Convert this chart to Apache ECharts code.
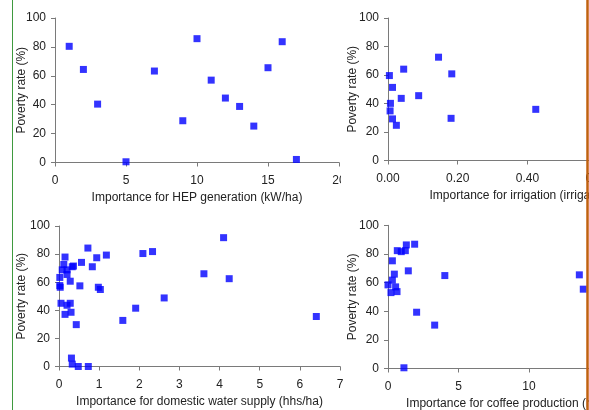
<!DOCTYPE html>
<html>
<head>
<meta charset="utf-8">
<script src="https://cdn.jsdelivr.net/npm/echarts@6/dist/echarts.min.js"></script>
<style>
  html, body { margin: 0; padding: 0; background: #fff; }
  #chart { width: 589px; height: 410px; }
</style>
</head>
<body>
<div id="chart"></div>
<script>
// values: [importance, poverty rate %]
var hepPoints = [
  [1, 80.4], [2, 64.4], [3, 40.4], [5, 0.5], [7, 63.3], [9, 28.9], [10, 85.7],
  [11, 57], [12, 44.6], [13, 38.8], [14, 25.2], [15, 65.6], [16, 83.6], [17, 2.1]
];
var irrigPoints = [
  [0.045, 64.1], [0.004, 59.6], [0.013, 51.3], [0.038, 43.6], [0.088, 45.5],
  [0.007, 40.1], [0.006, 34.8], [0.013, 29.2], [0.024, 24.7], [0.145, 72.5],
  [0.183, 60.8], [0.181, 29.6], [0.424, 35.9]
];
var waterPoints = [
  [0.72, 84.3], [0.15, 77.9], [0.94, 77.4], [1.18, 79.3], [0.56, 74.1], [0.83, 71],
  [0.12, 72.6], [0.08, 68.8], [0.2, 68.8], [0.33, 71], [0.36, 71.5], [0.2, 65.5],
  [0.02, 63.4], [0.28, 60.7], [0.52, 57.4], [0.02, 57.6], [0.03, 56.4], [0.98, 56.4],
  [1.03, 54.8], [0.05, 45], [0.2, 43.6], [0.28, 45], [0.15, 37.1], [0.3, 38.6],
  [0.43, 29.8], [0.31, 6], [0.33, 1.7], [0.48, 0], [0.73, 0],
  [1.59, 32.8], [1.91, 41.5], [2.09, 80.4], [2.33, 81.8], [2.62, 48.8],
  [3.61, 66], [4.1, 91.7], [4.24, 62.5], [6.41, 35.6]
];
var coffeePoints = [
  [1.3, 86.3], [1.89, 86.8], [0.66, 82.3], [0.94, 81.6], [1.23, 82.3], [0.31, 75.2],
  [1.44, 68.2], [0.45, 65.9], [0.31, 61.7], [0.0, 58.4], [0.54, 57], [0.21, 53],
  [0.64, 53.7], [2.03, 39.3], [3.31, 30.3], [1.13, 0.5], [4.03, 64.9],
  [13.57, 65.4], [13.85, 55.4]
];

var yName = 'Poverty rate (%)';
var xNames = [
  'Importance for HEP generation (kW/ha)',
  'Importance for irrigation (irrigated ha/ha)',
  'Importance for domestic water supply (hhs/ha)',
  'Importance for coffee production (ha/ha)'
];
var xMax = [20, 0.8, 7, 20];
var xStep = [5, 0.2, 1, 5];

var chart = echarts.init(document.getElementById('chart'));

var font = 'Liberation Sans, Arial, sans-serif';
var axisCol = '#7a7a7a';
var yGaps = [27, 29, 31.5, 29];

function xAxis(i, pad) {
  return {
    type: 'value', gridIndex: i, min: 0, max: xMax[i], interval: xStep[i],
    name: xNames[i], nameLocation: 'middle', nameGap: 29, nameMoveOverlap: false,
    nameTextStyle: { fontFamily: font, fontSize: 12, color: '#222', padding: pad },
    axisLine: { show: true, lineStyle: { color: axisCol } },
    axisTick: { show: true, length: 4, lineStyle: { color: axisCol } },
    axisLabel: {
      fontFamily: font, fontSize: 12, color: '#222', margin: 12,
      formatter: i === 1 ? function (v) { return v.toFixed(2); } : null
    },
    splitLine: { show: false }
  };
}
function yAxis(i) {
  return {
    type: 'value', gridIndex: i, min: 0, max: 100, interval: 20,
    name: yName, nameLocation: 'middle', nameGap: yGaps[i], nameMoveOverlap: false,
    nameTextStyle: { fontFamily: font, fontSize: 12, color: '#222' },
    axisLine: { show: true, lineStyle: { color: axisCol } },
    axisTick: { show: true, length: 4, lineStyle: { color: axisCol } },
    axisLabel: { fontFamily: font, fontSize: 12, color: '#222', margin: 9 },
    splitLine: { show: false }
  };
}
function series(i, data) {
  return {
    type: 'scatter', xAxisIndex: i, yAxisIndex: i, data: data,
    symbol: 'rect', symbolSize: 7, clip: false,
    itemStyle: { color: '#0000ff' }
  };
}

var option = {
  animation: false,
  grid: [
    { left: 55, top: 18, width: 284, height: 144.5, outerBoundsMode: 'none', containLabel: false },
    { left: 388, top: 18, width: 278.8, height: 142.5, outerBoundsMode: 'none', containLabel: false },
    { left: 59, top: 226, width: 281, height: 140.5, outerBoundsMode: 'none', containLabel: false },
    { left: 388, top: 225.3, width: 282, height: 143.2, outerBoundsMode: 'none', containLabel: false }
  ],
  xAxis: [xAxis(0), xAxis(1, [0, 0, 0, 19]), xAxis(2), xAxis(3, [0, 32, 0, 0])],
  yAxis: [yAxis(0), yAxis(1), yAxis(2), yAxis(3)],
  series: [
    series(0, hepPoints),
    series(1, irrigPoints),
    series(2, waterPoints),
    series(3, coffeePoints)
  ],
  graphic: [
    // the neighbouring panel hides the end of the "20" label
    { type: 'rect', z: 100, shape: { x: 341, y: 170, width: 25, height: 20 }, style: { fill: '#fff' } },
    // frame edges of the source figure
    { type: 'line', z: 100, shape: { x1: 12.5, y1: 0, x2: 12.5, y2: 410 }, style: { stroke: '#3f9a3f', lineWidth: 1 } },
    { type: 'line', z: 100, shape: { x1: 587.5, y1: 0, x2: 587.5, y2: 410 }, style: { stroke: '#c0600f', lineWidth: 2.5 } }
  ]
};
chart.setOption(option);
</script>
</body>
</html>
